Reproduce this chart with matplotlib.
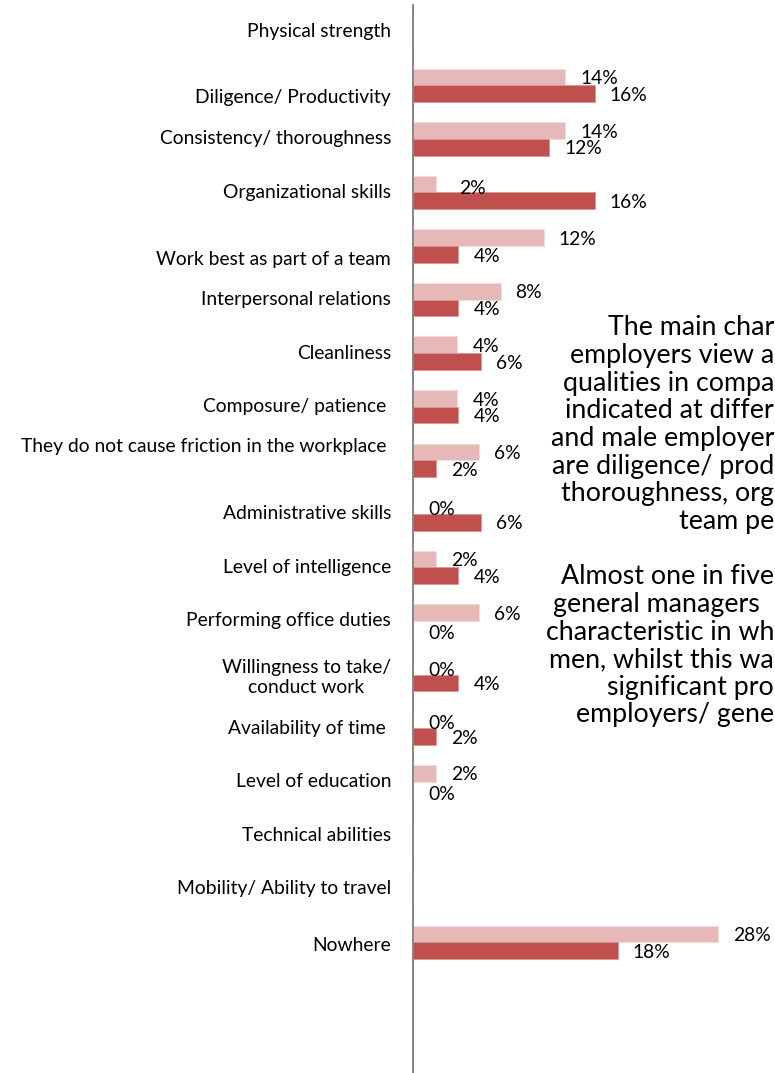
import matplotlib
matplotlib.use("Agg")
import matplotlib.pyplot as plt
import numpy as np

# === Data ===
categories = [
    "Physical strength",
    "Diligence/ Productivity",
    "Consistency/ thoroughness",
    "Organizational skills",
    "Work best as part of a team",
    "Interpersonal relations",
    "Cleanliness",
    "Composure/ patience ",
    "They do not cause friction in the workplace ",
    "Administrative skills",
    "Level of intelligence",
    "Performing office duties",
    "Willingness to take/\nconduct work",
    "Availability of time ",
    "Level of education",
    "Technical abilities",
    "Mobility/ Ability to travel",
    "Nowhere",
]
# light series (bar lengths as drawn) and its printed labels
light_vals = [0, 13.4, 13.4, 2.0, 11.5, 7.7, 3.9, 3.9, 5.8, 0, 2.0, 5.8, 0, 0, 2.0, 0, 0, 26.8]
light_text = ["", "14%", "14%", "2%", "12%", "8%", "4%", "4%", "6%", "0%",
              "2%", "6%", "0%", "0%", "2%", "", "", "28%"]
# dark series
dark_vals = [0, 16, 12, 16, 4, 4, 6, 4, 2, 6, 4, 0, 4, 2, 0, 0, 0, 18]
dark_text = ["", "16%", "12%", "16%", "4%", "4%", "6%", "4%", "2%", "6%",
             "4%", "0%", "4%", "2%", "0%", "", "", "18%"]

# side note, as much of each line as the picture shows (it runs off the edge)
note_lines = [
    "The main char",
    "employers view a",
    "qualities in compa",
    "indicated at differ",
    "and male employer",
    "are diligence/ prod",
    "thoroughness, org",
    "team pe",
    "",
    "Almost one in five",
    "general managers",
    "characteristic in wh",
    "men, whilst this wa",
    "significant pro",
    "employers/ gene",
]

# === Layout / style ===
W, H, DPI = 775, 1073, 100
LIGHT = "#E6B9B8"
DARK = "#C0504D"
FONT = "Lato"
FS = 13.9
NOTE_FS = 19.3
SLOT = 53.56          # px per category
PX_PER_PCT = 11.37
AX_LEFT, AX_TOP = 413, 5
# small vertical nudges (px) of a few category labels, as in the original
label_nudge = {1: 12, 4: 13, 8: -14, 12: 3, 17: 3}
light_label_nudge = {3: (8, 3)}   # (dx, dy) px
note_right = [774] * 10 + [760] + [774] * 4
note_right[8] = 0
note_y0, note_dy = 328, 27.64

plt.rcParams['font.family'] = [FONT, 'DejaVu Sans']

fig = plt.figure(figsize=(W / DPI, H / DPI), dpi=DPI)
xmax = 30
ax_w = xmax * PX_PER_PCT
ax = fig.add_axes([AX_LEFT / W, 0, ax_w / W, (H - AX_TOP) / H])
n_slots = (H - AX_TOP) / SLOT
ax.set_xlim(0, xmax)
ax.set_ylim(-0.5 + n_slots, -0.5)

pt = 72 / DPI
y = np.arange(len(categories))
bh = 0.312
ax.barh(y - bh / 2, light_vals, height=bh, color=LIGHT, edgecolor="#F2DCDB", linewidth=0.6)
ax.barh(y + bh / 2, dark_vals, height=bh, color=DARK, edgecolor="#D99694", linewidth=0.6)


def value_label(text, val, yy, dx=0, dy=0):
    if not text:
        return
    if val == 0:
        dy += 2.5
    ax.annotate(text, (val, yy), xytext=((15 + dx) * pt, -(1.7 + dy) * pt),
                textcoords="offset points", ha="left", va="center", fontsize=FS)


for i in range(len(categories)):
    dx, dy = light_label_nudge.get(i, (0, 0))
    value_label(light_text[i], light_vals[i], y[i] - bh / 2, dx, dy)
    value_label(dark_text[i], dark_vals[i], y[i] + bh / 2)
    ny = label_nudge.get(i, 0) * pt
    ax.annotate(categories[i], (0, y[i]), xytext=(-22 * pt, -ny),
                textcoords="offset points", ha="right", va="center",
                fontsize=FS, multialignment="center", linespacing=1.15,
                annotation_clip=False)

ax.set_yticks([])
ax.set_xticks([])
for s in ["top", "right", "bottom"]:
    ax.spines[s].set_visible(False)
ax.spines["left"].set_color("#868686")
ax.spines["left"].set_linewidth(1.4)
ax.patch.set_alpha(0)

for k, line in enumerate(note_lines):
    if not line:
        continue
    fig.text(note_right[k] / W, 1 - (note_y0 + k * note_dy) / H, line,
             ha="right", va="center", fontsize=NOTE_FS)

fig.savefig("out.png", dpi=DPI)
